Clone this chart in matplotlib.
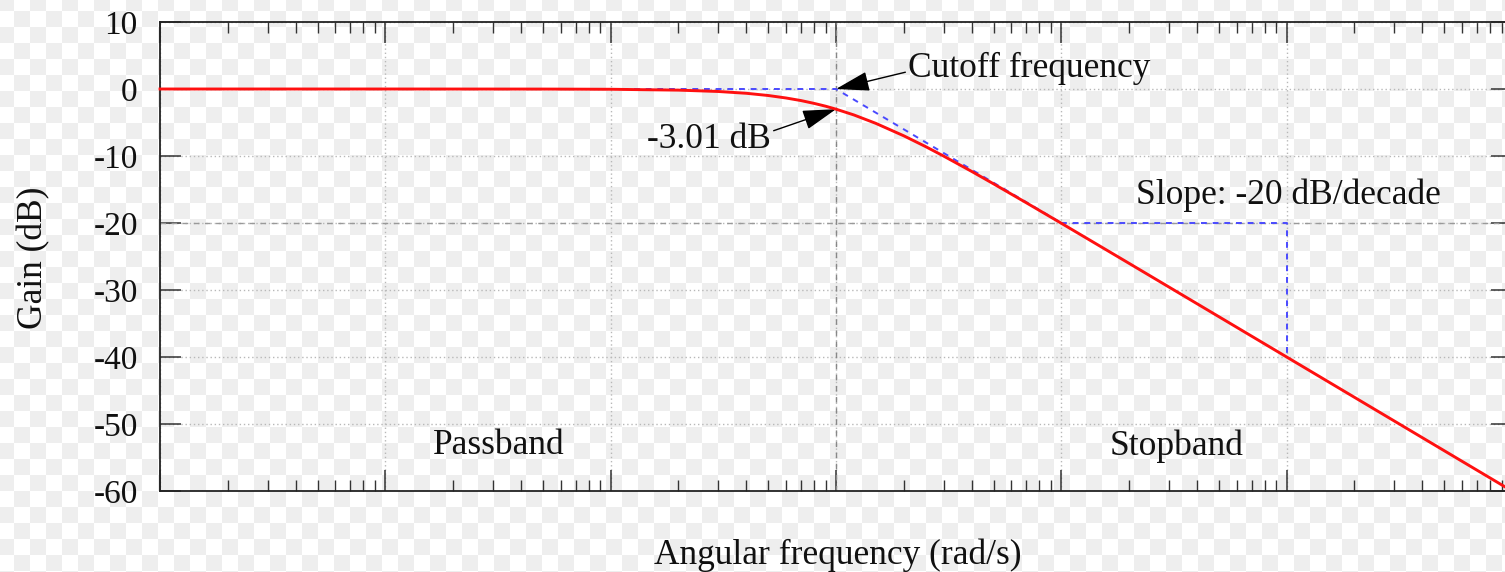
import matplotlib
matplotlib.use("Agg")
import matplotlib.pyplot as plt
import numpy as np

plt.rcParams['font.family'] = ['Liberation Serif', 'DejaVu Serif']
plt.rcParams['axes.unicode_minus'] = False

# red curve: gain
freq = [0.001, 0.01, 0.05, 0.1, 0.2, 0.3, 0.4, 0.5, 0.6, 0.7, 0.8, 0.9, 1.0,
        1.2, 1.5, 2.0, 2.5, 3.0, 4.0, 5.0, 7.0, 10.0, 20.0, 50.0, 100.0, 1000.0]
gain = [0.0, 0.0, -0.01, -0.04, -0.17, -0.37, -0.64, -0.97, -1.34, -1.73, -2.15,
        -2.57, -3.01, -3.87, -5.12, -6.99, -8.6, -10.0, -12.3, -14.15, -16.99,
        -20.04, -26.03, -33.98, -40.0, -60.0]

# blue asymptote and slope triangle
asym_freq = [0.1, 1.0, 10.0]
asym_gain = [0.0, 0.0, -20.0]
slope_freq = [10.0, 100.0, 100.0]
slope_gain = [-20.0, -20.0, -40.0]

yticks = [10, 0, -10, -20, -30, -40, -50, -60]
ytick_labels = ['10', '0', '-10', '-20', '-30', '-40', '-50', '-60']

W, H = 1505, 572
fig = plt.figure(figsize=(W / 100, H / 100), dpi=100)

# checkerboard background (transparency pattern of the screenshot)
yy, xx = np.mgrid[0:H, 0:W]
chk = ((((xx - 14) // 16) + ((yy - 11) // 16)) % 2).astype(float)
bg = np.where(chk[..., None] > 0, 1.0, 238 / 255.0) * np.ones((H, W, 3))
fig.figimage(bg, xo=0, yo=0, origin='upper', zorder=-10)

ax = fig.add_axes([160 / W, (H - 491) / H, 1352 / W, 469 / H])
ax.set_facecolor('none')

ax.set_xscale('log')
ax.set_xlim(1e-3, 1e3)
ax.set_ylim(-60, 10)

ax.set_yticks(yticks)
ax.set_yticklabels(ytick_labels)
ax.set_xticks([1e-3, 1e-2, 1e-1, 1, 10, 100, 1000])
ax.xaxis.set_minor_locator(matplotlib.ticker.LogLocator(base=10, subs=np.arange(2, 10), numticks=20))
ax.xaxis.set_major_formatter(matplotlib.ticker.NullFormatter())
ax.xaxis.set_minor_formatter(matplotlib.ticker.NullFormatter())

ax.tick_params(which='major', direction='in', length=15, width=1.1, color='#333333',
               top=True, right=True, labelsize=24, pad=16, labelcolor='#111111')
ax.tick_params(which='minor', direction='in', length=8, width=1.0, color='#333333',
               top=True, right=True)
ax.tick_params(axis='y', which='minor', left=False, right=False)
for s in ax.spines.values():
    s.set_color('#222222')
    s.set_linewidth(1.3)

ax.grid(True, which='major', color='#b8b8b8', linestyle=(0, (1, 2)), linewidth=1.0)
ax.axvline(1.0, color='#888888', linestyle=(0, (4, 4)), linewidth=1.0)
ax.axhline(-20, color='#999999', linestyle=(0, (4, 4)), linewidth=1.0)

ax.plot(asym_freq, asym_gain, color='#4a4aff', linestyle=(0, (3, 3)), linewidth=1.4, zorder=3)
ax.plot(slope_freq, slope_gain, color='#4a4aff', linestyle=(0, (3, 3)), linewidth=1.4, zorder=3)
ax.plot(freq, gain, color='#ff1010', linewidth=2.1, zorder=4, clip_on=False)

arrow = dict(arrowstyle='-|>,head_length=0.75,head_width=0.22', color='black', lw=1.0,
             mutation_scale=28, shrinkA=0, shrinkB=0)
ax.annotate('Cutoff frequency', xy=(1.0, 0.0), xytext=(2.09, 3.1),
            ha='left', va='center', fontsize=25.5, color='#111111',
            arrowprops=dict(arrow, relpos=(0, 0.4)))
ax.annotate('-3.01 dB', xy=(1.0, -3.01), xytext=(0.514, -7.6),
            ha='right', va='center', fontsize=25.5, color='#111111',
            arrowprops=dict(arrow, relpos=(1, 0.75)))
ax.text(21.5, -15.85, 'Slope: -20 dB/decade', ha='left', va='center', fontsize=25.5, color='#111111')
ax.text(0.0318, -53.25, 'Passband', ha='center', va='center', fontsize=25.5, color='#111111')
ax.text(32.4, -53.25, 'Stopband', ha='center', va='center', fontsize=25.5, color='#111111')

ax.set_xlabel('Angular frequency (rad/s)', fontsize=25.5, color='#111111')
ax.xaxis.label.set_va('center')
ax.xaxis.set_label_coords(0.501, -0.136)
ax.set_ylabel('Gain (dB)', fontsize=25.5, color='#111111')
ax.yaxis.label.set_va('center')
ax.yaxis.set_label_coords(-0.0935, 0.497)

fig.savefig('out.png', dpi=100)
